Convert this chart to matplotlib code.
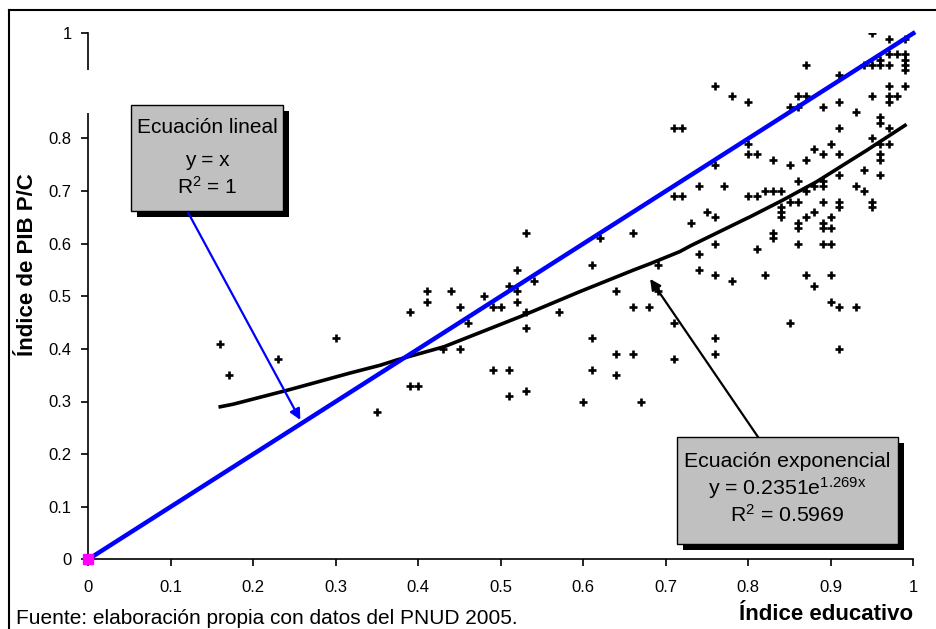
import matplotlib
matplotlib.use("Agg")
import matplotlib.pyplot as plt
from matplotlib.patches import Rectangle
from matplotlib.lines import Line2D

plt.rcParams['font.family'] = ['Liberation Sans', 'DejaVu Sans']
plt.rcParams['mathtext.fontset'] = 'custom'
plt.rcParams['mathtext.rm'] = 'Liberation Sans'
plt.rcParams['mathtext.it'] = 'Liberation Sans'
plt.rcParams['mathtext.default'] = 'regular'

# points (indice educativo, indice PIB p/c)
edu = [0.16, 0.17, 0.23, 0.30, 0.35, 0.39, 0.41, 0.41, 0.39, 0.40, 0.43, 0.44,
       0.45, 0.45, 0.46, 0.48, 0.49, 0.50, 0.49, 0.51, 0.51, 0.53, 0.51, 0.52,
       0.52, 0.52, 0.53, 0.53, 0.54, 0.53, 0.57, 0.61, 0.62, 0.61, 0.61, 0.60,
       0.64, 0.64, 0.66, 0.64, 0.66, 0.66, 0.68, 0.67, 0.69, 0.69, 0.71, 0.71,
       0.95, 0.97, 0.99, 0.87, 0.91, 0.94, 0.95, 0.96, 0.97, 0.96, 0.97, 0.98,
       0.99, 0.99, 0.99, 0.99, 0.76, 0.78, 0.80, 0.86, 0.87, 0.85, 0.86, 0.89,
       0.91, 0.93, 0.95, 0.97, 0.99, 0.97, 0.97, 0.98, 0.71, 0.72, 0.91, 0.96,
       0.96, 0.97, 0.80, 0.80, 0.81, 0.83, 0.85, 0.87, 0.88, 0.89, 0.90, 0.91,
       0.95, 0.96, 0.97, 0.96, 0.96, 0.94, 0.96, 0.91, 0.89, 0.89, 0.88, 0.86,
       0.76, 0.74, 0.77, 0.71, 0.72, 0.80, 0.81, 0.82, 0.83, 0.84, 0.87, 0.93,
       0.94, 0.85, 0.86, 0.89, 0.91, 0.91, 0.95, 0.95, 0.75, 0.76, 0.84, 0.84,
       0.84, 0.87, 0.88, 0.90, 0.73, 0.86, 0.86, 0.89, 0.89, 0.90, 0.83, 0.83,
       0.76, 0.86, 0.89, 0.90, 0.81, 0.74, 0.74, 0.76, 0.78, 0.82, 0.87, 0.88,
       0.90, 0.90, 0.91, 0.93, 0.85, 0.76, 0.76, 0.91]
pib = [0.41, 0.35, 0.38, 0.42, 0.28, 0.47, 0.51, 0.49, 0.33, 0.33, 0.40, 0.51,
       0.40, 0.48, 0.45, 0.50, 0.48, 0.48, 0.36, 0.36, 0.31, 0.32, 0.52, 0.55,
       0.51, 0.49, 0.47, 0.44, 0.53, 0.62, 0.47, 0.56, 0.61, 0.42, 0.36, 0.30,
       0.51, 0.39, 0.39, 0.35, 0.62, 0.48, 0.48, 0.30, 0.56, 0.51, 0.45, 0.38,
       1.00, 0.99, 0.99, 0.94, 0.92, 0.94, 0.94, 0.94, 0.94, 0.95, 0.96, 0.96,
       0.96, 0.95, 0.94, 0.93, 0.90, 0.88, 0.87, 0.88, 0.88, 0.86, 0.86, 0.86,
       0.87, 0.85, 0.88, 0.90, 0.90, 0.88, 0.87, 0.88, 0.82, 0.82, 0.82, 0.84,
       0.83, 0.82, 0.79, 0.77, 0.77, 0.76, 0.75, 0.76, 0.78, 0.77, 0.79, 0.77,
       0.80, 0.79, 0.79, 0.77, 0.76, 0.74, 0.73, 0.73, 0.72, 0.71, 0.71, 0.72,
       0.75, 0.71, 0.71, 0.69, 0.69, 0.69, 0.69, 0.70, 0.70, 0.70, 0.70, 0.71,
       0.70, 0.68, 0.68, 0.68, 0.68, 0.67, 0.68, 0.67, 0.66, 0.65, 0.67, 0.66,
       0.65, 0.65, 0.66, 0.65, 0.64, 0.64, 0.63, 0.64, 0.63, 0.63, 0.62, 0.61,
       0.60, 0.60, 0.60, 0.60, 0.59, 0.58, 0.55, 0.54, 0.53, 0.54, 0.54, 0.52,
       0.54, 0.49, 0.48, 0.48, 0.45, 0.42, 0.39, 0.40]

# exponential trend as drawn in the picture
curve_x = [0.16, 0.176, 0.245, 0.317, 0.354, 0.374, 0.431, 0.523, 0.596,
           0.661, 0.681, 0.717, 0.730, 0.794, 0.802, 0.842, 0.883, 0.944, 0.99]
curve_y = [0.290, 0.295, 0.323, 0.354, 0.369, 0.379, 0.404, 0.461, 0.509,
           0.550, 0.562, 0.585, 0.596, 0.645, 0.651, 0.683, 0.718, 0.778, 0.825]

# linear reference y = x
lin_x = [0, 1]
lin_y = [0, 1]

xticks = [0, 0.1, 0.2, 0.3, 0.4, 0.5, 0.6, 0.7, 0.8, 0.9, 1]
xlabels = ['0', '0.1', '0.2', '0.3', '0.4', '0.5', '0.6', '0.7', '0.8', '0.9', '1']
yticks = [0, 0.1, 0.2, 0.3, 0.4, 0.5, 0.6, 0.7, 0.8, 1]
ylabels = ['0', '0.1', '0.2', '0.3', '0.4', '0.5', '0.6', '0.7', '0.8', '1']

W, H = 936, 629
fig = plt.figure(figsize=(W / 100, H / 100), dpi=100)
ax = fig.add_axes([88.3 / W, 1 - 559.3 / H, 825 / W, 526 / H])

ax.plot(edu, pib, linestyle='none', marker='+', color='black',
        markersize=5.5, markeredgewidth=1.9, zorder=3)
ax.plot(curve_x, curve_y, color='black', linewidth=2.6, zorder=4,
        solid_joinstyle='round')
ax.plot(lin_x, lin_y, color='#0000FF', linewidth=3.2, zorder=4,
        solid_capstyle='projecting', clip_on=False)
ax.plot([0], [0], marker='s', color='#FF00FF', markersize=7, zorder=5,
        clip_on=False)

ax.set_xlim(0, 1)
ax.set_ylim(0, 1)
ax.set_xticks(xticks)
ax.set_xticklabels(xlabels)
ax.set_yticks(yticks)
ax.set_yticklabels(ylabels)
ax.tick_params(axis='both', direction='out', length=5, width=1.2,
               labelsize=12, colors='black')
ax.tick_params(axis='x', pad=10)
ax.tick_params(axis='y', pad=7)
for side in ['top', 'right']:
    ax.spines[side].set_visible(False)
for side in ['left', 'bottom']:
    ax.spines[side].set_linewidth(1.2)

# gap in the y axis line
ax.add_patch(Rectangle((-0.006, 0.848), 0.012, 0.082, transform=ax.transAxes,
                       facecolor='white', edgecolor='none', zorder=6, clip_on=False))

# text boxes with shadow
sx, sy = 6 / 825, 6 / 526
def box(x0, y0, x1, y1):
    ax.add_patch(Rectangle((x0 + sx, y0 - sy), x1 - x0, y1 - y0,
                           facecolor='black', edgecolor='none', zorder=6))
    ax.add_patch(Rectangle((x0, y0), x1 - x0, y1 - y0, facecolor='#C0C0C0',
                           edgecolor='black', linewidth=1, zorder=7))

box(0.0518, 0.662, 0.236, 0.864)
ax.text(0.144, 0.820, 'Ecuación lineal', ha='center', va='center', fontsize=15, zorder=8)
ax.text(0.144, 0.759, 'y = x', ha='center', va='center', fontsize=15, zorder=8)
ax.text(0.144, 0.708, r'R$^{2}$ = 1', ha='center', va='center', fontsize=15, zorder=8)

box(0.713, 0.030, 0.981, 0.233)
ax.text(0.847, 0.186, 'Ecuación exponencial', ha='center', va='center', fontsize=15.3, zorder=8)
ax.text(0.847, 0.136, r'y = 0.2351e$^{1.269x}$', ha='center', va='center', fontsize=15.3, zorder=8)
ax.text(0.847, 0.084, r'R$^{2}$ = 0.5969', ha='center', va='center', fontsize=15.3, zorder=8)

ax.annotate('', xy=(0.257, 0.265), xytext=(0.120, 0.662),
            arrowprops=dict(arrowstyle='-|>', color='#0000FF', lw=1.6,
                            mutation_scale=16, shrinkA=0, shrinkB=0), zorder=6)
ax.annotate('', xy=(0.681, 0.533), xytext=(0.812, 0.232),
            arrowprops=dict(arrowstyle='-|>', color='black', lw=1.6,
                            mutation_scale=16, shrinkA=0, shrinkB=0), zorder=6)

fig.text(28 / W, 1 - 265 / H, 'Índice de PIB P/C', rotation=90, ha='center',
         va='center', fontsize=16, fontweight='bold')
fig.text(913 / W, 1 - 615 / H, 'Índice educativo', ha='right', va='center',
         fontsize=16, fontweight='bold')
fig.text(16 / W, 1 - 618 / H, 'Fuente: elaboración propia con datos del PNUD 2005.',
         ha='left', va='center', fontsize=15)

# outer frame (only top and left edges are inside the picture)
fig.add_artist(Line2D([9 / W, 1], [1 - 10 / H, 1 - 10 / H], color='black', lw=1.5))
fig.add_artist(Line2D([9 / W, 9 / W], [0, 1 - 10 / H], color='black', lw=1.5))

fig.savefig('out.png', dpi=100)
plt.close(fig)
